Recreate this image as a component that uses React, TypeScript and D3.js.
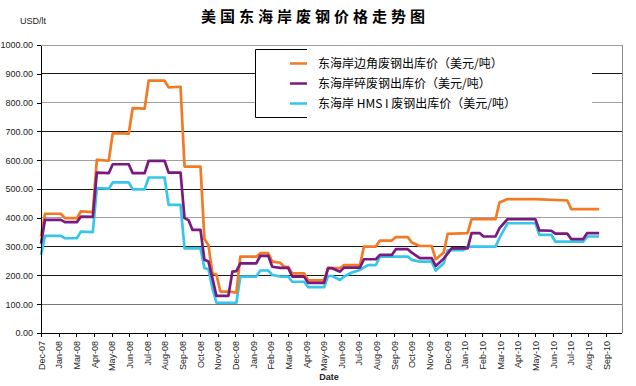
import React, { useEffect, useRef } from "react";
import * as d3 from "d3";

const chartTitle = "美国东海岸废钢价格走势图";
const yUnit = "USD/lt";
const xTitle = "Date";
const yTicks = [0, 100, 200, 300, 400, 500, 600, 700, 800, 900, 1000];
const darkGrid = [900, 700, 500, 300, 200];

const tickDates = [
  "2007-12-31", "2008-01-31", "2008-03-02", "2008-04-02", "2008-05-03", "2008-06-03",
  "2008-07-04", "2008-08-04", "2008-09-04", "2008-10-05", "2008-11-05", "2008-12-06",
  "2009-01-06", "2009-02-06", "2009-03-09", "2009-04-09", "2009-05-10", "2009-06-10",
  "2009-07-11", "2009-08-11", "2009-09-11", "2009-10-12", "2009-11-12", "2009-12-13",
  "2010-01-13", "2010-02-13", "2010-03-16", "2010-04-16", "2010-05-17", "2010-06-17",
  "2010-07-18", "2010-08-18", "2010-09-18",
];

const seriesNames = [
  "东海岸边角废钢出库价（美元/吨）",
  "东海岸碎废钢出库价（美元/吨）",
  "东海岸 HMS I 废钢出库价（美元/吨）",
];
const seriesColors = ["#F27A22", "#7A1A7E", "#35C6EA"];

const orangeDates = [
  "2007-12-31", "2008-01-07", "2008-02-04", "2008-02-11", "2008-03-03", "2008-03-10",
  "2008-03-31", "2008-04-07", "2008-04-28", "2008-05-05", "2008-06-02", "2008-06-09",
  "2008-06-30", "2008-07-07", "2008-08-04", "2008-08-11", "2008-09-01", "2008-09-08",
  "2008-10-06", "2008-10-13", "2008-10-20", "2008-10-27", "2008-11-03", "2008-11-10",
  "2008-11-24", "2008-12-08", "2008-12-15", "2009-01-12", "2009-01-19", "2009-02-02",
  "2009-02-09", "2009-02-23", "2009-03-02", "2009-03-09", "2009-03-16", "2009-04-06",
  "2009-04-13", "2009-05-11", "2009-05-18", "2009-06-08", "2009-06-15", "2009-07-13",
  "2009-07-20", "2009-08-10", "2009-08-17", "2009-09-07", "2009-09-14", "2009-10-05",
  "2009-10-12", "2009-10-26", "2009-11-16", "2009-11-23", "2009-12-07", "2009-12-14",
  "2010-01-18", "2010-01-25", "2010-03-08", "2010-03-15", "2010-03-29", "2010-05-17",
  "2010-07-12", "2010-07-19", "2010-09-06",
];
const orangeValues = [
  335, 414, 414, 399, 399, 422,
  420, 601, 598, 694, 692, 781,
  779, 876, 876, 853, 855, 578,
  578, 326, 305, 207, 203, 144,
  144, 140, 265, 265, 277, 277,
  248, 244, 230, 230, 207, 207,
  183, 183, 225, 225, 236, 236,
  300, 300, 321, 321, 333, 333,
  314, 302, 302, 256, 279, 344,
  347, 395, 395, 453, 465, 465,
  460, 430, 430,
];

const purpleDates = [
  "2007-12-31", "2008-01-07", "2008-02-04", "2008-02-11", "2008-03-03", "2008-03-10",
  "2008-03-31", "2008-04-07", "2008-04-28", "2008-05-05", "2008-06-02", "2008-06-09",
  "2008-06-30", "2008-07-07", "2008-08-04", "2008-08-11", "2008-09-01", "2008-09-08",
  "2008-09-15", "2008-09-22", "2008-10-06", "2008-10-13", "2008-10-20", "2008-10-27",
  "2008-11-03", "2008-11-24", "2008-12-01", "2008-12-08", "2008-12-15", "2009-01-12",
  "2009-01-19", "2009-02-02", "2009-02-09", "2009-02-23", "2009-03-09", "2009-03-16",
  "2009-04-06", "2009-04-13", "2009-05-11", "2009-05-18", "2009-05-25", "2009-06-08",
  "2009-06-15", "2009-07-13", "2009-07-20", "2009-08-10", "2009-08-17", "2009-09-07",
  "2009-09-14", "2009-10-05", "2009-10-12", "2009-10-26", "2009-11-16", "2009-11-23",
  "2009-12-07", "2009-12-21", "2010-01-18", "2010-01-25", "2010-02-08", "2010-02-15",
  "2010-03-08", "2010-03-15", "2010-03-29", "2010-05-17", "2010-05-24", "2010-06-14",
  "2010-06-21", "2010-07-12", "2010-07-19", "2010-08-09", "2010-08-16", "2010-09-06",
];
const purpleValues = [
  310, 393, 393, 385, 385, 404,
  403, 557, 555, 586, 586, 555,
  555, 598, 598, 557, 557, 399,
  392, 358, 358, 254, 248, 190,
  129, 129, 213, 215, 242, 242,
  268, 268, 230, 226, 226, 196,
  196, 174, 174, 225, 225, 213,
  227, 227, 256, 256, 271, 271,
  291, 291, 279, 260, 260, 233,
  258, 294, 294, 347, 347, 335,
  335, 364, 395, 395, 356, 355,
  345, 345, 326, 326, 347, 347,
];

const cyanDates = [
  "2007-12-31", "2008-01-07", "2008-02-04", "2008-02-11", "2008-03-03", "2008-03-10",
  "2008-03-31", "2008-04-07", "2008-04-28", "2008-05-05", "2008-06-02", "2008-06-09",
  "2008-06-30", "2008-07-07", "2008-08-04", "2008-08-11", "2008-09-01", "2008-09-08",
  "2008-10-06", "2008-10-13", "2008-10-20", "2008-10-27", "2008-11-03", "2008-12-08",
  "2008-12-15", "2009-01-12", "2009-01-19", "2009-02-02", "2009-02-09", "2009-02-23",
  "2009-03-09", "2009-03-16", "2009-04-06", "2009-04-13", "2009-05-11", "2009-05-18",
  "2009-05-25", "2009-06-08", "2009-06-15", "2009-06-29", "2009-07-13", "2009-07-27",
  "2009-08-10", "2009-08-17", "2009-10-05", "2009-10-12", "2009-10-26", "2009-11-16",
  "2009-11-23", "2009-12-07", "2009-12-14", "2010-01-11", "2010-01-18", "2010-03-08",
  "2010-03-15", "2010-03-29", "2010-05-17", "2010-05-24", "2010-06-14", "2010-06-21",
  "2010-08-09", "2010-08-16", "2010-09-06",
];
const cyanValues = [
  271, 337, 337, 329, 329, 352,
  350, 503, 501, 523, 523, 499,
  499, 540, 540, 445, 445, 294,
  294, 225, 222, 155, 105, 105,
  196, 196, 217, 217, 202, 196,
  196, 178, 178, 159, 159, 198,
  198, 184, 196, 210, 219, 236,
  236, 265, 265, 254, 248, 248,
  217, 242, 288, 288, 300, 300,
  330, 381, 381, 341, 341, 317,
  317, 335, 335,
];

const FONT = "'Liberation Sans', Arial, sans-serif";

export default function App() {
  const ref = useRef<SVGSVGElement>(null);

  useEffect(() => {
    const svg = d3.select(ref.current);
    svg.selectAll("*").remove();
    const parse = d3.utcParse("%Y-%m-%d");

    const left = 41, right = 622, top = 45, bottom = 333;
    const x = d3
      .scaleUtc()
      .domain([parse(tickDates[0])!, parse(tickDates[tickDates.length - 1])!])
      .range([left, 606]);
    const y = d3.scaleLinear().domain([0, 1000]).range([bottom, top]);

    svg.append("rect").attr("width", 636).attr("height", 386).attr("fill", "#fff");

    // title
    svg
      .append("text")
      .attr("x", 201)
      .attr("y", 22)
      .attr("font-family", "'Noto Sans CJK SC', sans-serif")
      .attr("font-weight", "bold")
      .attr("font-size", 15)
      .attr("letter-spacing", 4)
      .attr("fill", "#000")
      .text(chartTitle);

    svg
      .append("text")
      .attr("x", 20)
      .attr("y", 24)
      .attr("font-family", FONT)
      .attr("font-size", 9)
      .attr("fill", "#222")
      .text(yUnit);

    // gridlines
    svg
      .append("g")
      .selectAll("line")
      .data(yTicks.filter((v) => v > 0))
      .join("line")
      .attr("x1", left)
      .attr("x2", right)
      .attr("y1", (d) => y(d))
      .attr("y2", (d) => y(d))
      .attr("stroke", (d) => (darkGrid.includes(d) ? "#1a1a1a" : d === 100 ? "#777" : "#a0a0a0"))
      .attr("stroke-width", 1)
      .attr("shape-rendering", "crispEdges");

    // right border
    svg
      .append("line")
      .attr("x1", right)
      .attr("x2", right)
      .attr("y1", top)
      .attr("y2", bottom)
      .attr("stroke", "#888")
      .attr("shape-rendering", "crispEdges");

    // legend
    const lg = svg.append("g");
    lg.append("rect")
      .attr("x", 255)
      .attr("y", 49)
      .attr("width", 337)
      .attr("height", 68)
      .attr("fill", "#fff");
    lg.append("path")
      .attr("d", "M307,49.5H255.5V117.5H307")
      .attr("fill", "none")
      .attr("stroke", "#000")
      .attr("stroke-width", 1);
    seriesNames.forEach((name, i) => {
      const ly = 63.5 + i * 20;
      lg.append("line")
        .attr("x1", 290)
        .attr("x2", 307)
        .attr("y1", ly)
        .attr("y2", ly)
        .attr("stroke", seriesColors[i])
        .attr("stroke-width", 2.5);
      lg.append("text")
        .attr("x", 318)
        .attr("y", ly)
        .attr("dy", "0.36em")
        .attr("font-family", "'Noto Sans CJK SC', sans-serif")
        .attr("font-size", 12)
        .attr("fill", "#000")
        .text(name);
    });

    // series
    const line = d3
      .line<[Date, number]>()
      .x((d) => x(d[0]))
      .y((d) => y(d[1]));
    const series = [
      { dates: cyanDates, values: cyanValues, color: seriesColors[2] },
      { dates: orangeDates, values: orangeValues, color: seriesColors[0] },
      { dates: purpleDates, values: purpleValues, color: seriesColors[1] },
    ];
    series.forEach((s) => {
      const pts = s.dates.map((d, i) => [parse(d)!, s.values[i]] as [Date, number]);
      svg
        .append("path")
        .datum(pts)
        .attr("d", line)
        .attr("fill", "none")
        .attr("stroke", s.color)
        .attr("stroke-width", 2.7)
        .attr("stroke-linejoin", "round");
    });

    // y axis
    const yAxis = svg
      .append("g")
      .attr("transform", `translate(${left},0)`)
      .call(
        d3
          .axisLeft(y)
          .tickValues(yTicks)
          .tickSize(4)
          .tickSizeOuter(0)
          .tickPadding(4)
          .tickFormat((d) => (d as number).toFixed(2))
      );
    yAxis.selectAll("path,line").attr("stroke", "#000").attr("shape-rendering", "crispEdges");
    yAxis.selectAll("text").attr("font-family", FONT).attr("font-size", 9).attr("fill", "#222");

    // x axis
    const xAxis = svg
      .append("g")
      .attr("transform", `translate(0,${bottom})`)
      .call(
        d3
          .axisBottom(x)
          .tickValues(tickDates.map((d) => parse(d)!))
          .tickSize(4)
          .tickSizeOuter(0)
          .tickFormat((d) => d3.utcFormat("%b-%y")(d as Date))
      );
    xAxis.select(".domain").remove();
    xAxis.selectAll("line").attr("stroke", "#000").attr("shape-rendering", "crispEdges");
    xAxis
      .selectAll("text")
      .attr("transform", "rotate(-90)")
      .attr("x", -8)
      .attr("y", 0)
      .attr("dy", "0.35em")
      .attr("text-anchor", "end")
      .attr("font-family", FONT)
      .attr("font-size", 9)
      .attr("fill", "#222");
    svg
      .append("line")
      .attr("x1", left)
      .attr("x2", right)
      .attr("y1", bottom)
      .attr("y2", bottom)
      .attr("stroke", "#000")
      .attr("shape-rendering", "crispEdges");

    svg
      .append("text")
      .attr("x", 329)
      .attr("y", 380)
      .attr("text-anchor", "middle")
      .attr("font-family", FONT)
      .attr("font-weight", "bold")
      .attr("font-size", 9)
      .attr("fill", "#222")
      .text(xTitle);
  }, []);

  return (
    <svg
      ref={ref}
      width={636}
      height={386}
      style={{ position: "absolute", left: 0, top: 0, display: "block" }}
    />
  );
}
